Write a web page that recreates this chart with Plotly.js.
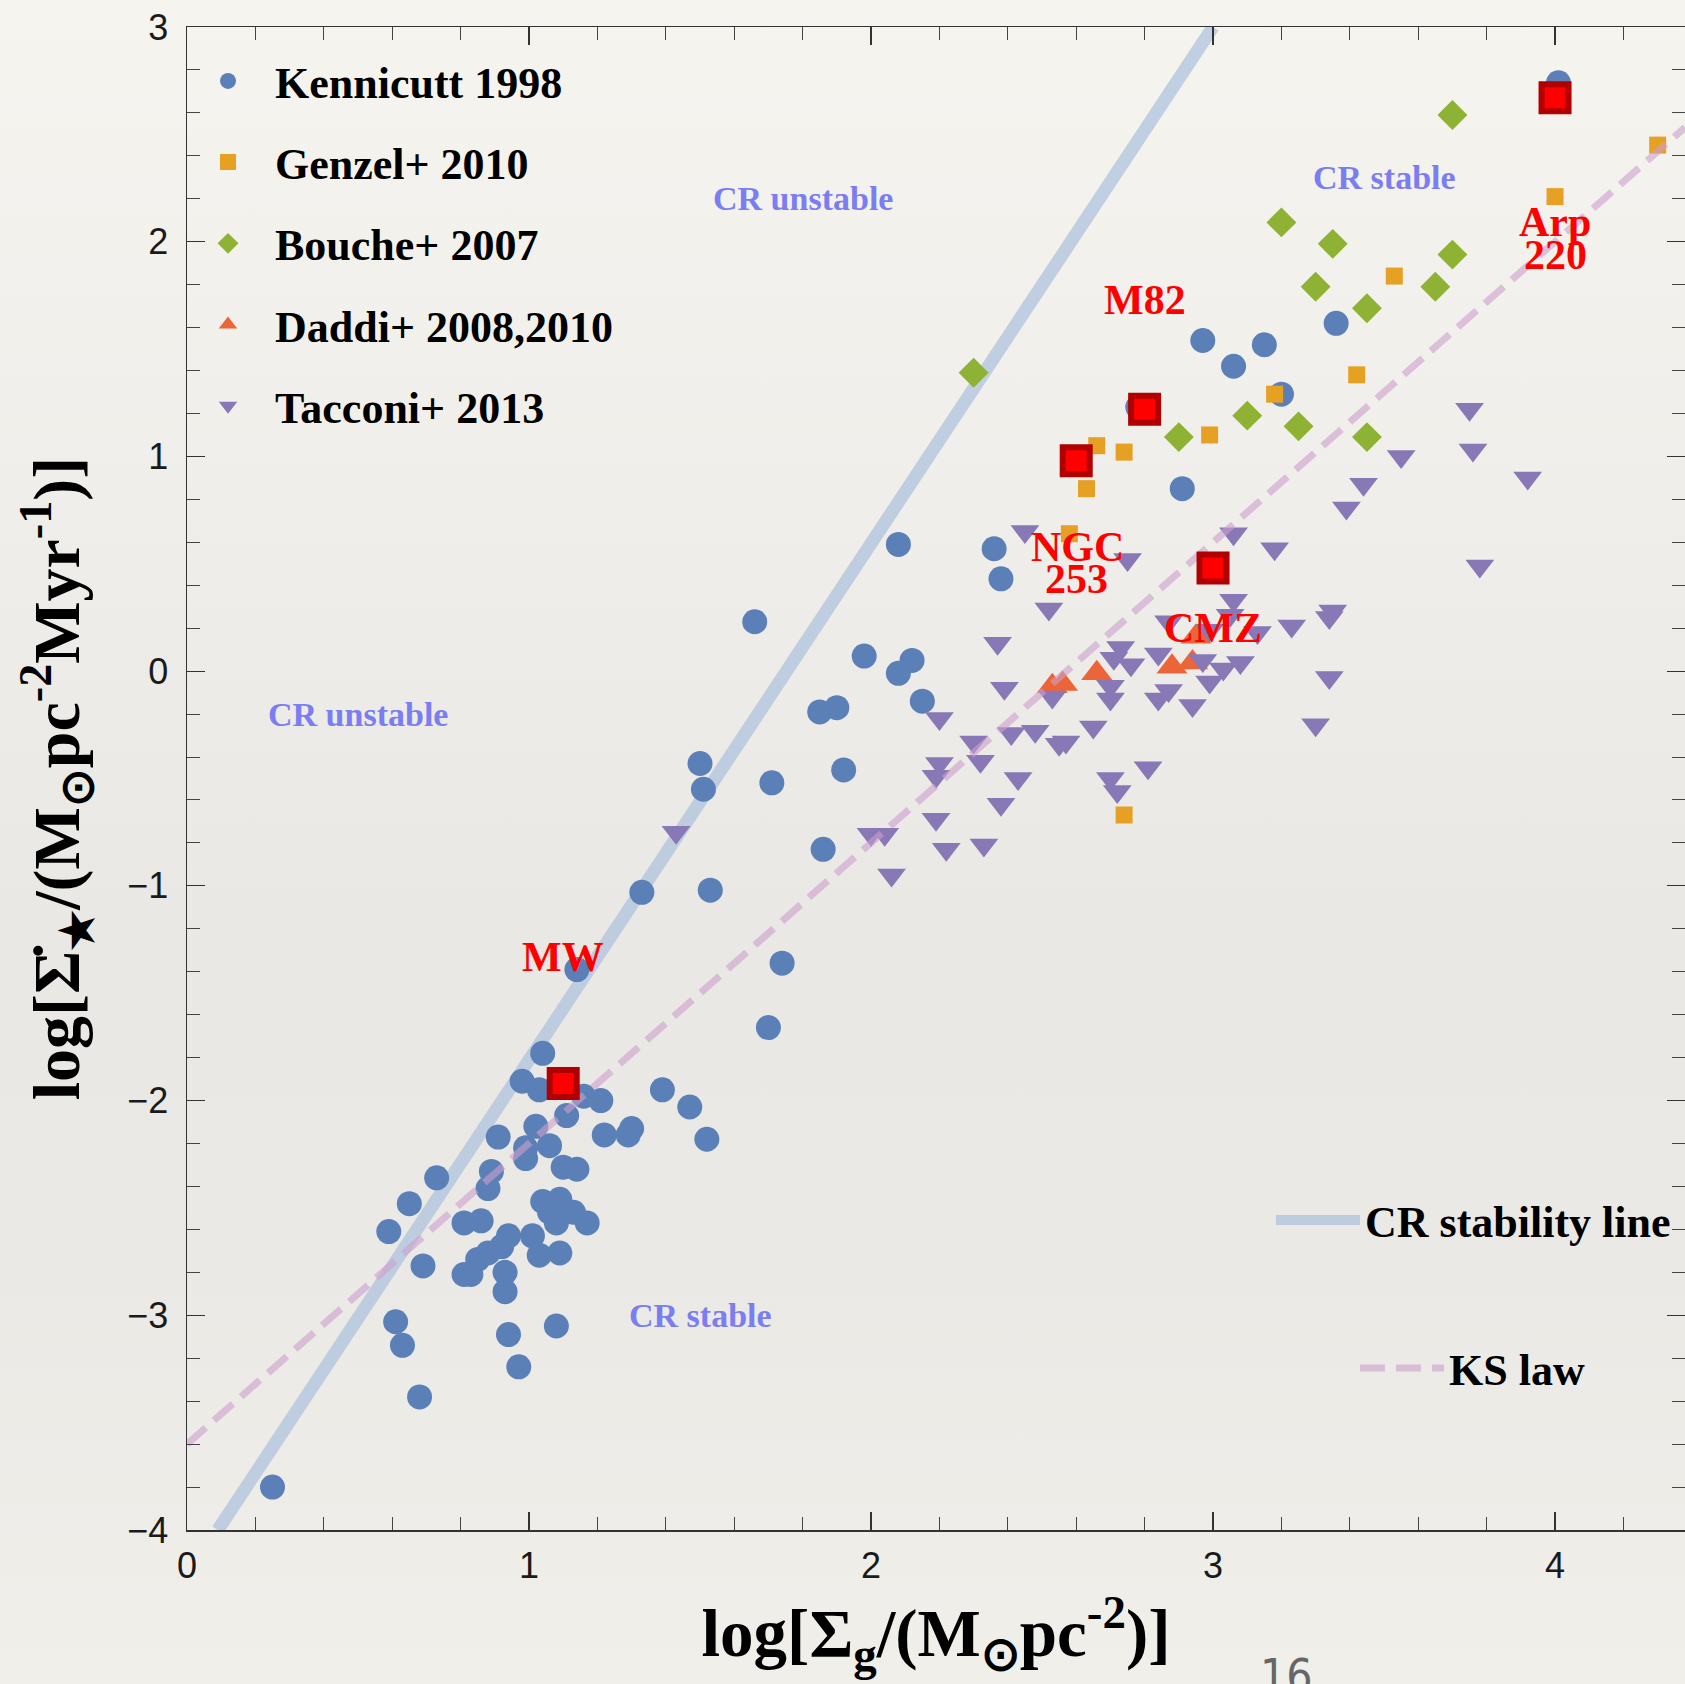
<!DOCTYPE html>
<html>
<head>
<meta charset="utf-8">
<script src="https://cdn.plot.ly/plotly-3.0.1.min.js"></script>
<style>
  html, body { margin: 0; padding: 0; }
  body {
    width: 1685px; height: 1684px; overflow: hidden;
    background: linear-gradient(to bottom, #f6f4ef 0%, #f0eeea 30%, #e9e8e4 55%, #ebe9e5 75%, #f1efea 100%);
  }
  #chart { width: 1685px; height: 1684px; }
</style>
</head>
<body>
<div id="chart"></div>
<script>
// ---------------- data ----------------
const kenX = [1.04, 0.98, 1.03, 1.16, 1.21, 1.11, 1.39, 1.47, 1.52, 1.02, 0.91, 1.22, 1.29, 1.30, 1.06, 0.99, 0.99, 1.10, 1.14, 0.89,
              0.88, 0.73, 0.65, 0.59, 0.69, 0.81, 0.86, 1.04, 1.09, 1.08, 1.13, 1.17, 1.06, 1.01, 1.09, 1.03, 0.94, 0.92, 0.88, 0.85,
              0.83, 0.81, 0.93, 0.93, 0.61, 0.63, 0.94, 1.08, 0.97, 0.68, 0.25,
              1.14, 1.74, 1.70, 1.33, 1.53, 1.86, 1.50, 1.51, 1.71, 1.92, 1.85, 1.90, 2.15, 2.08, 2.12, 1.98, 1.66, 2.08, 2.36, 2.38,
              2.91, 3.20, 2.97, 3.06, 3.15, 3.36, 2.78, 4.01];
const kenY = [-1.78, -1.91, -1.95, -1.98, -2.00, -2.07, -1.95, -2.03, -2.18, -2.12, -2.17, -2.16, -2.16, -2.13, -2.21, -2.22, -2.27, -2.31, -2.32, -2.33,
              -2.41, -2.36, -2.48, -2.61, -2.77, -2.57, -2.56, -2.47, -2.46, -2.57, -2.52, -2.57, -2.52, -2.63, -2.71, -2.72, -2.63, -2.68, -2.71, -2.74,
              -2.81, -2.81, -2.80, -2.89, -3.03, -3.14, -3.09, -3.05, -3.24, -3.38, -3.80,
              -1.39, -1.36, -1.66, -1.03, -1.02, -0.83, -0.43, -0.55, -0.52, -0.46, -0.19, -0.17, -0.14, -0.01, 0.05, 0.07, 0.23, 0.59, 0.57, 0.43,
              0.85, 1.29, 1.54, 1.42, 1.52, 1.62, 1.23, 2.74];

const genX = [4.00, 4.30, 3.53, 3.42, 3.18, 2.99, 2.74, 2.66, 2.63, 2.58, 2.74];
const genY = [2.21, 2.45, 1.84, 1.38, 1.29, 1.10, 1.02, 1.05, 0.85, 0.64, -0.67];

const bouX = [3.70, 3.20, 3.35, 3.70, 3.30, 3.65, 3.45, 3.10, 2.90, 3.25, 3.45, 2.30];
const bouY = [2.59, 2.09, 1.99, 1.94, 1.79, 1.79, 1.69, 1.19, 1.09, 1.14, 1.09, 1.39];

const dadX = [2.53, 2.56, 2.66, 2.88, 2.94, 2.95];
const dadY = [-0.07, -0.06, -0.01, 0.02, 0.04, 0.16];

const tacX = [2.45, 2.52, 2.37, 2.39, 2.20, 2.53, 2.30, 2.32, 2.41, 2.48, 2.55, 2.57, 2.65, 2.20, 2.19, 2.43, 2.38, 2.19, 2.00, 2.04,
              2.22, 2.33, 2.06, 1.43, 3.75, 3.76, 3.55, 3.92, 3.44, 3.39, 3.06, 3.18, 3.78, 2.75, 3.06, 3.05, 3.35, 3.34, 3.23, 3.13,
              2.87, 2.99, 2.73, 2.71, 2.76, 2.84, 2.97, 2.99, 3.03, 3.08, 3.34, 3.30, 2.70, 2.70, 2.84, 2.87, 2.94, 2.81, 2.70, 2.72];
const tacY = [0.65, 0.29, 0.13, -0.08, -0.22, -0.12, -0.33, -0.42, -0.29, -0.28, -0.34, -0.33, -0.26, -0.43, -0.49, -0.50, -0.62, -0.69, -0.76, -0.76,
              -0.83, -0.81, -0.95, -0.75, 1.22, 1.03, 1.00, 0.90, 0.87, 0.76, 0.64, 0.57, 0.49, 0.52, 0.33, 0.26, 0.28, 0.25, 0.21, 0.18,
              0.23, 0.19, 0.11, 0.06, 0.03, 0.08, 0.05, -0.05, 0.01, 0.04, -0.03, -0.25, -0.07, -0.13, -0.13, -0.09, -0.16, -0.45, -0.50, -0.56];

// highlighted objects: MW, NGC 253, M82, CMZ, Arp 220
const hlX = [1.10, 2.60, 2.80, 3.00, 4.00];
const hlY = [-1.92, 0.98, 1.22, 0.48, 2.67];

// reference lines
const crX = [0.09, 3.00];
const crY = [-4.00, 3.00];
const ksX = [0.00, 4.38];
const ksY = [-3.60, 2.532];

// series names
const seriesNames = ["Kennicutt 1998", "Genzel+ 2010", "Bouche+ 2007", "Daddi+ 2008,2010", "Tacconi+ 2013"];
const lineNames = ["CR stability line", "KS law"];

// red object labels
const objText = ["MW", "M82", "NGC", "253", "CMZ", "Arp", "220"];
const objX = [1.10, 2.80, 2.605, 2.60, 3.00, 4.00, 4.00];
const objY = [-1.33, 1.73, 0.58, 0.43, 0.20, 2.09, 1.94];

// region labels
const regText = ["CR unstable", "CR stable", "CR unstable", "CR stable"];
const regX = [1.80, 3.50, 0.50, 1.50];
const regY = [2.20, 2.30, -0.20, -3.00];

// axis ticks
const xTickVals = [0, 1, 2, 3, 4];
const yTickVals = [-4, -3, -2, -1, 0, 1, 2, 3];

// ---------------- styling ----------------
const SERIF = "Liberation Serif, Times New Roman, Times, serif";
const SANS = "Liberation Sans, Arial, Helvetica, sans-serif";

const traces = [
  {x: crX, y: crY, mode: "lines", name: lineNames[0], legend: "legend2",
   line: {color: "rgba(172,192,220,0.72)", width: 13}, hoverinfo: "skip"},
  {x: kenX, y: kenY, mode: "markers", name: seriesNames[0], legendgroup: "g1",
   marker: {symbol: "circle", size: 25, color: "#5b80b8"}},
  {x: genX, y: genY, mode: "markers", name: seriesNames[1], legendgroup: "g2",
   marker: {symbol: "square", size: 17, color: "#e6a125"}},
  {x: bouX, y: bouY, mode: "markers", name: seriesNames[2], legendgroup: "g3",
   marker: {symbol: "diamond", size: 23, color: "#8db234"}},
  {x: dadX, y: dadY, mode: "markers", name: seriesNames[3], legendgroup: "g4",
   marker: {symbol: "triangle-up", size: 27, color: "#ec6538"}},
  {x: tacX, y: tacY, mode: "markers", name: seriesNames[4], legendgroup: "g5",
   marker: {symbol: "triangle-down", size: 25, color: "#8878b6"}},
  {x: ksX, y: ksY, mode: "lines", name: lineNames[1], legend: "legend3",
   line: {color: "rgba(205,158,205,0.6)", width: 7, dash: "25px,11px"}, hoverinfo: "skip"},
  {x: hlX, y: hlY, mode: "markers", showlegend: false,
   marker: {symbol: "square", size: 27, color: "#ff0000", line: {color: "#b10000", width: 6}}}
];

const annotations = [];
for (let i = 0; i < objText.length; i++) {
  annotations.push({x: objX[i], y: objY[i], xref: "x", yref: "y", text: objText[i], showarrow: false,
    xanchor: "center", yanchor: "middle",
    font: {family: SERIF, size: 42, color: "#ff0000", weight: "bold"}});
}
for (let i = 0; i < regText.length; i++) {
  annotations.push({x: regX[i], y: regY[i], xref: "x", yref: "y", text: regText[i], showarrow: false,
    xanchor: "center", yanchor: "middle",
    font: {family: SERIF, size: 34, color: "#7a7ef0", weight: "bold"}});
}
// page number of the slide
annotations.push({x: 0.734, y: -0.078, xref: "paper", yref: "paper", text: "16", showarrow: false,
  xanchor: "center", yanchor: "top",
  font: {family: "Liberation Sans Narrow, DejaVu Sans Condensed, sans-serif", size: 46, color: "#666666"}});

const axisCommon = {
  showgrid: false, zeroline: false,
  showline: true, linecolor: "#333333", linewidth: 1.5, mirror: "allticks",
  ticks: "inside", ticklen: 18, tickwidth: 1.2, tickcolor: "#333333",
  tickfont: {family: SANS, size: 36, color: "#1a1a1a"},
  minor: {ticks: "inside", ticklen: 13, tickwidth: 1, tickcolor: "#444444", dtick: 0.2, showgrid: false},
  automargin: false
};

const layout = {
  width: 1685, height: 1684,
  margin: {l: 187, r: 0, t: 27, b: 154},
  paper_bgcolor: "rgba(0,0,0,0)",
  plot_bgcolor: "rgba(0,0,0,0)",
  showlegend: true,
  xaxis: Object.assign({}, axisCommon, {
    range: [0, 4.38], tickvals: xTickVals, ticklabelstandoff: 3,
    title: {text: "log[Σ<sub>g</sub>/(M<sub>⊙</sub>pc<sup>-2</sup>)]", standoff: 18,
            font: {family: SERIF, size: 67, color: "#000", weight: "bold"}}
  }),
  yaxis: Object.assign({}, axisCommon, {
    range: [-4, 3], tickvals: yTickVals, ticklabelstandoff: 10,
    title: {text: "log[Σ̇<sub>★</sub>/(M<sub>⊙</sub>pc<sup>-2</sup>Myr<sup>-1</sup>)]", standoff: 26,
            font: {family: SERIF, size: 66, color: "#000", weight: "bold"}}
  }),
  legend: {x: -0.004, y: 0.9875, xanchor: "left", yanchor: "top", bgcolor: "rgba(0,0,0,0)",
           traceorder: "grouped", tracegroupgap: 21, itemwidth: 84,
           font: {family: SERIF, size: 44, color: "#000", weight: "bold"}},
  legend2: {x: 0.7236, y: 0.2296, xanchor: "left", yanchor: "top", bgcolor: "rgba(0,0,0,0)", itemwidth: 84,
           font: {family: SERIF, size: 44, color: "#000", weight: "bold"}},
  legend3: {x: 0.7797, y: 0.1311, xanchor: "left", yanchor: "top", bgcolor: "rgba(0,0,0,0)", itemwidth: 84,
           font: {family: SERIF, size: 44, color: "#000", weight: "bold"}},
  annotations: annotations
};

Plotly.newPlot("chart", traces, layout, {staticPlot: true, displayModeBar: false});
</script>
</body>
</html>
